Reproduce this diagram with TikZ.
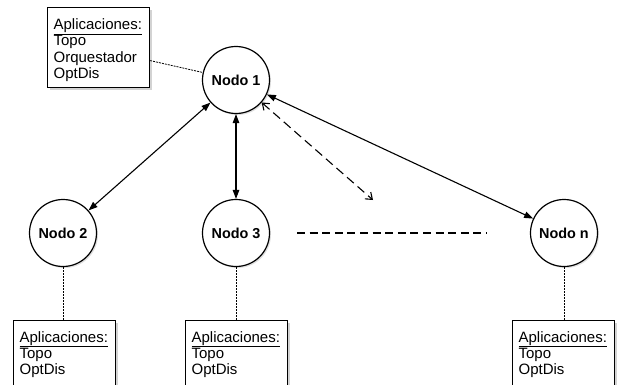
\documentclass[tikz,border=0pt]{standalone}
\usepackage{fontspec}
\setmainfont{Liberation Sans}
\usetikzlibrary{arrows.meta,shadows}
\begin{document}
\begin{tikzpicture}[x=1pt,y=-1pt,
  nodo/.style={circle, draw, line width=1.2pt, fill=white, minimum size=67pt,
    inner sep=0pt, font=\fontsize{14.4}{16}\selectfont\bfseries,
    drop shadow={shadow xshift=1.5pt, shadow yshift=-1.5pt, opacity=0.25}},
  appbox/.style={rectangle, draw, line width=1.2pt, fill=white, anchor=north west,
    inner xsep=6pt, inner ysep=0pt, align=left, text width=90pt,
    font=\fontsize{15}{16.3}\selectfont,
    drop shadow={shadow xshift=2pt, shadow yshift=-2pt, opacity=0.35}},
  enlace/.style={line width=1.1pt, {Triangle[length=9pt,width=6.5pt]}-{Triangle[length=9pt,width=6.5pt]}},
  posible/.style={line width=1.1pt, dash pattern=on 9pt off 5pt,
    {Straight Barb[length=6pt,width=9pt]}-{Straight Barb[length=6pt,width=9pt]}},
  suspensivos/.style={line width=1.2pt, dash pattern=on 8pt off 4.6pt},
  asociacion/.style={line width=0.8pt, dash pattern=on 2pt off 1pt}]
\useasboundingbox (0,0) rectangle (618,385);
\clip (0,0) rectangle (618,385);

% nodes of the network
\node[nodo] (n1) at (236,80) {Nodo 1};
\node[nodo] (n2) at (63,233) {Nodo 2};
\node[nodo] (n3) at (236,233) {Nodo 3};
\node[nodo] (nn) at (564,233) {Nodo n};

% application boxes
\node[appbox, minimum height=80pt] (a1) at (47,7)
  {\rule{0pt}{16pt}\underline{Aplicaciones:}\\Topo\\Orquestador\\OptDis};
\node[appbox, minimum height=68pt] (a2) at (13,320)
  {\underline{Aplicaciones:}\\Topo\\OptDis};
\node[appbox, minimum height=68pt] (a3) at (185,320)
  {\underline{Aplicaciones:}\\Topo\\OptDis};
\node[appbox, minimum height=68pt] (an) at (512,320)
  {\underline{Aplicaciones:}\\Topo\\OptDis};

% links between nodes
\draw[enlace] (n1) -- (n2);
\draw[enlace] (n1) -- (n3);
\draw[enlace] (n1) -- (nn);

% further links, not drawn in full
\coordinate (pend) at (373,200);
\draw[posible] (n1) -- (pend);
\coordinate (s1) at (297,233);
\coordinate (s2) at (487,233);
\draw[suspensivos] (s1) -- (s2);

% applications running on each node
\draw[asociacion] ([yshift=-13pt]a1.east) -- (n1);
\draw[asociacion] (n2.south) -- (n2.south |- a2.north);
\draw[asociacion] (n3.south) -- (n3.south |- a3.north);
\draw[asociacion] (nn.south) -- (nn.south |- an.north);
\end{tikzpicture}
\end{document}
